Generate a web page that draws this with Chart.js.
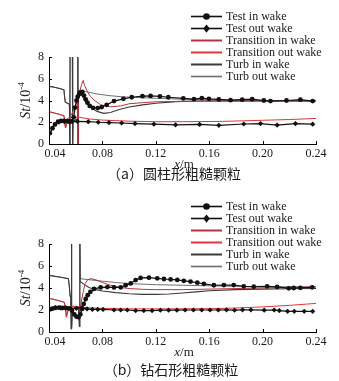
<!DOCTYPE html>
<html>
<head>
<meta charset="utf-8">
<script src="https://cdn.jsdelivr.net/npm/chart.js@4.4.1/dist/chart.umd.min.js"></script>
<style>
  html, body { margin: 0; padding: 0; background: #fff; }
  canvas { display: block; }
</style>
</head>
<body>
<canvas id="chartA" width="339" height="190"></canvas>
<canvas id="chartB" width="339" height="191"></canvas>
<script>
// axis ticks
const xTicks = [0.04, 0.08, 0.12, 0.16, 0.20, 0.24];
const xTickLabels = ['0.04', '0.08', '0.12', '0.16', '0.20', '0.24'];
const yTicks = [0, 2, 4, 6, 8];
const yTickLabels = ['0', '2', '4', '6', '8'];
const seriesNames = ['Test in wake', 'Test out wake', 'Transition in wake', 'Transition out wake', 'Turb in wake', 'Turb out wake'];

// (a) cylinder roughness, [x, St*1e4]
const aTestIn = [[0.0406,1.0],[0.0426,1.45],[0.0445,1.8],[0.0468,2.05],[0.049,2.12],[0.0513,2.12],[0.0538,2.1],[0.0553,2.05],[0.057,2.08],[0.0585,2.45],[0.0595,3.35],[0.0606,4.0],[0.0615,4.35],[0.0627,4.6],[0.0638,4.75],[0.065,4.8],[0.0662,4.45],[0.0675,4.1],[0.0688,3.8],[0.0705,3.5],[0.073,3.32],[0.0765,3.3],[0.0795,3.4],[0.0832,3.6],[0.0887,3.95],[0.0957,4.15],[0.102,4.3],[0.11,4.4],[0.1161,4.42],[0.1231,4.38],[0.1294,4.3],[0.1406,4.2],[0.1486,4.12],[0.1545,4.22],[0.1598,4.15],[0.1672,4.1],[0.176,4.03],[0.1847,4.08],[0.1922,4.12],[0.2009,4.0],[0.2059,3.95],[0.2179,4.0],[0.2283,4.08],[0.2375,3.95]];
const aTestOut = [[0.0475,2.02],[0.0515,2.05],[0.0555,2.05],[0.0613,2.08],[0.0694,2.05],[0.0769,2.0],[0.0849,1.97],[0.0944,1.93],[0.1044,1.88],[0.1186,1.82],[0.1348,1.76],[0.1528,1.8],[0.1672,1.72],[0.1859,1.84],[0.1984,1.88],[0.2109,1.74],[0.2246,1.88],[0.2375,1.82]];
const aTransUp = [[0.0405,2.95],[0.044,2.85],[0.048,2.72],[0.0512,2.6],[0.0518,2.1],[0.0523,1.5]];
const aTransIn = [[0.0545,2.2],[0.058,3.0],[0.0612,3.9],[0.0616,-0.2],[0.0619,4.0],[0.0632,4.9],[0.0645,5.5],[0.0656,5.85],[0.0666,5.4],[0.0688,4.8],[0.0712,4.35],[0.0737,4.05],[0.0787,3.6],[0.0862,3.42],[0.0937,3.5],[0.1,3.7],[0.11,3.8],[0.12,3.88],[0.14,3.92],[0.17,3.95],[0.2,3.95],[0.24,3.95]];
const aTransOut = [[0.0527,2.2],[0.0545,2.4],[0.058,2.45],[0.063,2.45],[0.07,2.3],[0.08,2.2],[0.09,2.15],[0.1,2.1],[0.12,2.05],[0.14,2.05],[0.17,2.08],[0.2,2.18],[0.22,2.25],[0.24,2.35]];
const aTurbUp = [[0.0405,5.3],[0.044,5.22],[0.048,5.1],[0.0512,4.98],[0.0517,4.3],[0.0522,3.85],[0.0553,3.65],[0.0556,-0.15],[0.0558,9],[0.0575,9],[0.0577,-0.15],[0.058,2.1],[0.0612,2.3],[0.0615,9],[0.0617,9],[0.0618,-0.2],[0.0621,4.9]];
const aTurbIn = [[0.0625,4.85],[0.065,4.4],[0.068,3.85],[0.072,3.3],[0.076,3.0],[0.081,2.82],[0.086,2.9],[0.092,3.15],[0.1,3.4],[0.11,3.6],[0.12,3.75],[0.135,3.9],[0.15,3.95],[0.18,3.97],[0.21,3.97],[0.24,3.95]];
const aTurbOut = [[0.0625,4.9],[0.068,4.8],[0.076,4.6],[0.085,4.45],[0.094,4.35],[0.105,4.28],[0.12,4.2],[0.14,4.12],[0.16,4.07],[0.2,4.0],[0.24,3.97]];

// (b) diamond roughness
const bTestIn = [[0.0405,2.05],[0.0425,2.12],[0.045,2.2],[0.0475,2.22],[0.05,2.18],[0.0525,2.2],[0.055,2.15],[0.0572,1.95],[0.059,1.6],[0.0605,1.4],[0.062,1.35],[0.0635,1.6],[0.0648,2.1],[0.066,2.55],[0.0675,3.0],[0.069,3.35],[0.071,3.65],[0.0737,3.92],[0.0787,4.05],[0.0837,4.08],[0.0887,4.05],[0.0937,4.05],[0.0974,4.25],[0.1012,4.42],[0.1049,4.72],[0.1086,4.92],[0.1149,4.94],[0.1211,4.88],[0.1261,4.82],[0.1311,4.78],[0.1361,4.73],[0.141,4.65],[0.146,4.58],[0.1511,4.48],[0.156,4.38],[0.1635,4.25],[0.171,4.27],[0.1784,4.27],[0.1859,4.15],[0.1934,4.12],[0.2034,4.15],[0.2109,4.1],[0.2196,3.97],[0.2233,4.0],[0.2283,4.02],[0.2371,4.06]];
const bTestOut = [[0.0405,2.1],[0.0445,2.22],[0.0485,2.2],[0.0525,2.15],[0.0565,2.1],[0.0605,2.15],[0.0645,2.2],[0.0685,2.1],[0.0725,2.05],[0.0765,2.05],[0.0805,2.05],[0.0887,2.0],[0.0937,2.0],[0.0987,2.0],[0.1049,1.95],[0.111,1.95],[0.1172,1.95],[0.1234,1.98],[0.1296,1.98],[0.1358,1.98],[0.142,2.0],[0.1482,2.0],[0.1544,2.0],[0.1606,2.0],[0.1668,2.0],[0.173,2.02],[0.179,1.98],[0.185,2.02],[0.1912,2.02],[0.2012,1.98],[0.2087,2.0],[0.2125,1.95],[0.2187,1.88],[0.2237,1.88],[0.2312,1.88],[0.2375,1.88]];
const bTransUp = [[0.0405,3.05],[0.044,2.95],[0.048,2.82],[0.0515,2.7],[0.0525,2.0],[0.053,1.35]];
const bTransIn = [[0.0545,2.0],[0.057,2.3],[0.06,2.2],[0.0625,2.0],[0.064,2.6],[0.0655,3.6],[0.067,4.4],[0.069,4.75],[0.0715,4.85],[0.075,4.75],[0.08,4.5],[0.086,4.25],[0.093,4.05],[0.1,3.95],[0.11,3.88],[0.12,3.85],[0.14,3.85],[0.16,3.9],[0.18,3.95],[0.2,4.0],[0.22,4.05],[0.24,4.1]];
const bTransOut = [[0.0545,2.25],[0.058,2.35],[0.062,2.3],[0.066,2.25],[0.07,2.2],[0.08,2.15],[0.1,2.1],[0.13,2.1],[0.16,2.12],[0.18,2.18],[0.2,2.28],[0.22,2.42],[0.24,2.6]];
const bTurbUp = [[0.0405,5.15],[0.045,5.05],[0.05,4.95],[0.0545,4.85],[0.0552,4.2],[0.0558,3.3],[0.0563,3.1],[0.0566,0.3],[0.0567,9],[0.057,9],[0.0571,0.35],[0.0575,2.1],[0.062,2.3],[0.0628,0.5],[0.063,9],[0.0632,9]];
const bTurbIn = [[0.0634,4.6],[0.066,4.35],[0.07,4.05],[0.075,3.85],[0.08,3.72],[0.09,3.58],[0.1,3.48],[0.11,3.42],[0.12,3.42],[0.13,3.45],[0.14,3.55],[0.15,3.65],[0.16,3.75],[0.18,3.85],[0.2,3.9],[0.22,3.93],[0.24,3.95]];
const bTurbOut = [[0.0634,4.85],[0.07,4.75],[0.08,4.62],[0.09,4.5],[0.1,4.4],[0.12,4.3],[0.14,4.25],[0.16,4.2],[0.18,4.15],[0.2,4.12],[0.24,4.1]];

const serif = '"Liberation Serif", "DejaVu Serif", serif';
const toXY = arr => arr.map(p => ({ x: p[0], y: p[1] }));

function drawMarker(ctx, style, x, y, r) {
  ctx.beginPath();
  if (style === 'rectRot') {
    ctx.moveTo(x, y - r * 1.25); ctx.lineTo(x + r, y); ctx.lineTo(x, y + r * 1.25); ctx.lineTo(x - r, y);
    ctx.closePath();
  } else {
    ctx.arc(x, y, r, 0, Math.PI * 2);
  }
  ctx.fill();
}

// legend, inward ticks, axis titles and caption
const decor = {
  id: 'decor',
  afterDraw(chart, args, opts) {
    const ctx = chart.ctx;
    const xs = chart.scales.x, ys = chart.scales.y;
    ctx.save();
    ctx.strokeStyle = '#000';
    ctx.lineWidth = 1;
    ctx.beginPath();
    xs.ticks.forEach(t => {
      const px = Math.round(xs.getPixelForValue(t.value)) + 0.5;
      ctx.moveTo(px, ys.bottom); ctx.lineTo(px, ys.bottom - 3);
    });
    ys.ticks.forEach(t => {
      const py = Math.round(ys.getPixelForValue(t.value)) + 0.5;
      ctx.moveTo(xs.left, py); ctx.lineTo(xs.left + 3, py);
    });
    ctx.stroke();

    // legend
    ctx.font = '12px ' + serif;
    ctx.textBaseline = 'middle';
    chart.data.datasets.forEach((ds, i) => {
      const y = 16.5 + i * 12;
      ctx.strokeStyle = ds.borderColor;
      ctx.lineWidth = ds.legendWidth;
      ctx.beginPath(); ctx.moveTo(191, y); ctx.lineTo(222, y); ctx.stroke();
      if (ds.pointRadius > 0) {
        ctx.fillStyle = ds.borderColor;
        drawMarker(ctx, ds.pointStyle, 206.5, y, 3.3);
      }
      ctx.fillStyle = '#1a1a1a';
      ctx.textAlign = 'left';
      ctx.fillText(ds.label, 226, y + 0.5);
    });

    // y title: St/10^-4
    ctx.save();
    ctx.translate(25, (ys.top + ys.bottom) / 2);
    ctx.rotate(-Math.PI / 2);
    ctx.fillStyle = '#1a1a1a';
    ctx.textAlign = 'left';
    ctx.textBaseline = 'alphabetic';
    const f1 = 'italic 14px ' + serif, f2 = '14px ' + serif, f3 = '9px ' + serif;
    ctx.font = f1; const w1 = ctx.measureText('St').width;
    ctx.font = f2; const w2 = ctx.measureText('/10').width;
    ctx.font = f3; const w3 = ctx.measureText('-4').width;
    let x0 = -(w1 + w2 + w3) / 2;
    ctx.font = f1; ctx.fillText('St', x0, 5);
    ctx.font = f2; ctx.fillText('/10', x0 + w1, 5);
    ctx.font = f3; ctx.fillText('-4', x0 + w1 + w2, -1);
    ctx.restore();

    // x title: x/m
    ctx.fillStyle = '#1a1a1a';
    ctx.textBaseline = 'middle';
    ctx.textAlign = 'left';
    ctx.font = 'italic 13px ' + serif; const wx = ctx.measureText('x').width;
    ctx.font = '13px ' + serif; const wm = ctx.measureText('/m').width;
    const tx = 184 - (wx + wm) / 2;
    ctx.font = 'italic 13px ' + serif; ctx.fillText('x', tx, opts.titleY);
    ctx.font = '13px ' + serif; ctx.fillText('/m', tx + wx, opts.titleY);

    // caption
    ctx.font = '14px "Noto Sans CJK SC", sans-serif';
    ctx.textAlign = 'center';
    ctx.fillText(opts.caption, opts.captionX, opts.captionY);
    ctx.restore();
  }
};

function makeChart(id, series, top, xHeight, decorOpts) {
  const styles = [
    { borderColor: '#111', borderWidth: 1.2, pointRadius: 2.4, pointStyle: 'circle', legendWidth: 1.6 },
    { borderColor: '#111', borderWidth: 1.2, pointRadius: 2.6, pointStyle: 'rectRot', legendWidth: 1.6 },
    { borderColor: '#b8323c', borderWidth: 1, pointRadius: 0, pointStyle: 'circle', legendWidth: 2 },
    { borderColor: '#e0353a', borderWidth: 1, pointRadius: 0, pointStyle: 'circle', legendWidth: 2 },
    { borderColor: '#3a3a3a', borderWidth: 1.1, pointRadius: 0, pointStyle: 'circle', legendWidth: 2 },
    { borderColor: '#6e6e6e', borderWidth: 1, pointRadius: 0, pointStyle: 'circle', legendWidth: 1.6 }
  ];
  const datasets = series.map((s, i) => Object.assign({
    label: seriesNames[i],
    data: toXY(s),
    backgroundColor: styles[i].borderColor,
    pointBorderWidth: 0,
    tension: 0,
    fill: false
  }, styles[i]));

  return new Chart(document.getElementById(id), {
    type: 'line',
    data: { datasets },
    options: {
      responsive: false,
      animation: false,
      devicePixelRatio: 1,
      layout: { padding: { top: top, right: 23, left: 0, bottom: 0 } },
      plugins: { legend: { display: false }, tooltip: { enabled: false }, decor: decorOpts },
      scales: {
        x: {
          type: 'linear',
          min: 0.04, max: 0.24,
          afterBuildTicks: s => { s.ticks = xTicks.map(v => ({ value: v })); },
          afterFit: s => { s.height = xHeight; },
          grid: { display: false, drawTicks: false },
          border: { display: true, color: '#000', width: 1 },
          ticks: {
            padding: 3, maxRotation: 0, autoSkip: false,
            color: '#1a1a1a', font: { family: serif, size: 12 },
            callback: (v, i) => (i === 0 ? '\u2007\u2007' : '') + xTickLabels[i]
          }
        },
        y: {
          min: 0, max: 8,
          afterBuildTicks: s => { s.ticks = yTicks.map(v => ({ value: v })); },
          afterFit: s => { s.width = 49; },
          grid: { display: false, drawTicks: false },
          border: { display: true, color: '#000', width: 1 },
          ticks: {
            padding: 5, color: '#1a1a1a', font: { family: serif, size: 12 },
            callback: (v, i) => yTickLabels[i]
          }
        }
      }
    },
    plugins: [decor]
  });
}

makeChart('chartA', [
  aTestIn, aTestOut,
  aTransUp.concat(aTransIn), aTransUp.concat(aTransOut),
  aTurbUp.concat(aTurbIn), aTurbUp.concat(aTurbOut)
], 57, 46, { caption: '（a）圆柱形粗糙颗粒', captionX: 174, captionY: 174, titleY: 165 });

makeChart('chartB', [
  bTestIn, bTestOut,
  bTransUp.concat(bTransIn), bTransUp.concat(bTransOut),
  bTurbUp.concat(bTurbIn), bTurbUp.concat(bTurbOut)
], 54, 49, { caption: '（b）钻石形粗糙颗粒', captionX: 171, captionY: 180, titleY: 163 });
</script>
</body>
</html>
